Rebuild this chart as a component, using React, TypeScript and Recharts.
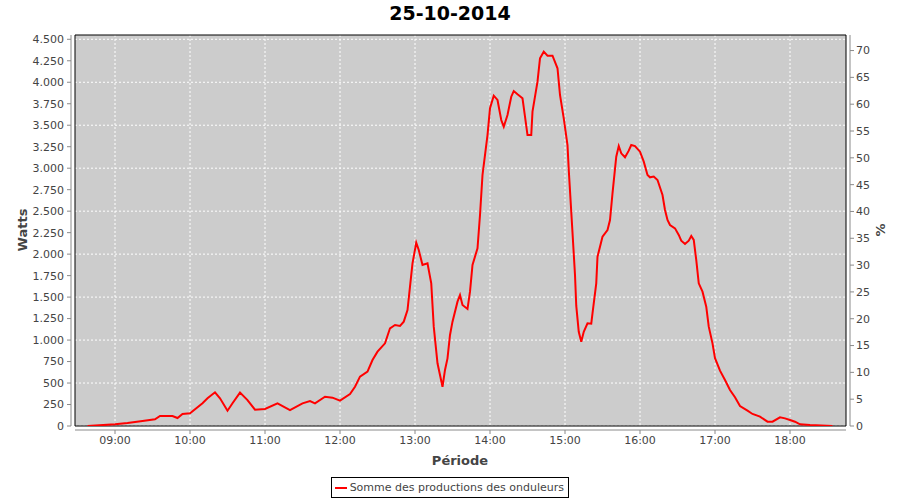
import React from "react";
import {
  LineChart,
  Line,
  XAxis,
  YAxis,
  CartesianGrid,
  ReferenceArea,
  Legend,
} from "recharts";

const chartTitle = "25-10-2014";
const seriesName = "Somme des productions des onduleurs";

// minutes since midnight
const minutes = [
  518, 540, 550, 562, 572, 576, 586, 590, 594, 600,
  610, 614, 620, 624, 630, 634, 640, 646, 652, 660,
  670, 680, 690, 696, 700, 708, 714, 720, 728, 732,
  736, 742, 746, 750, 756, 760, 764, 768, 771, 774,
  776, 778, 781, 783, 786, 790, 793, 795, 798, 802,
  804, 806, 808, 810, 814, 816, 818, 822, 824, 826,
  830, 832, 834, 838, 840, 843, 846, 849, 851, 854,
  857, 859, 862, 866, 868, 870, 873, 874, 878, 880,
  883, 886, 890, 894, 896, 899, 902, 903, 906, 908,
  909, 911, 913, 915, 918, 921, 922, 925, 926, 930,
  934, 936, 938, 941, 943, 945, 948, 951, 953, 956,
  960, 963, 966, 968, 971, 974, 978, 980, 982, 984,
  988, 991, 993, 996, 999, 1001, 1003, 1005, 1007, 1010,
  1013, 1015, 1018, 1020, 1024, 1028, 1032, 1036, 1040, 1046,
  1050, 1056, 1062, 1066, 1072, 1076, 1080, 1084, 1088, 1096,
  1114,
];

const watts = [
  0, 20, 35, 58, 78, 116, 116, 93, 140, 148,
  264, 322, 392, 322, 178, 264, 388, 302, 190, 198,
  264, 186, 264, 291, 264, 341, 330, 295, 372, 457,
  574, 632, 768, 865, 962, 1137, 1175, 1164, 1214, 1350,
  1621, 1893, 2133, 2048, 1874, 1893, 1660, 1156, 730, 457,
  652, 787, 1059, 1214, 1447, 1524, 1408, 1362, 1563, 1874,
  2068, 2455, 2921, 3386, 3697, 3844, 3794, 3561, 3483, 3619,
  3832, 3898, 3860, 3814, 3599, 3386, 3386, 3658, 4007, 4279,
  4356, 4309, 4309, 4163, 3852, 3580, 3270, 2980, 2250, 1757,
  1400, 1097, 981, 1097, 1195, 1190, 1311, 1660, 1970, 2203,
  2281, 2397, 2708, 3134, 3258, 3173, 3127, 3204, 3270, 3258,
  3192, 3076, 2921, 2894, 2902, 2863, 2688, 2514, 2397, 2339,
  2300, 2223, 2157, 2118, 2157, 2211, 2165, 1932, 1660, 1563,
  1389, 1156, 962, 790, 644, 535, 419, 334, 233, 178,
  140, 109, 50, 50, 101, 89, 70, 50, 20, 12,
  0,
];

const hourTicks = [540, 600, 660, 720, 780, 840, 900, 960, 1020, 1080];
const wattTicks = [
  0, 250, 500, 750, 1000, 1250, 1500, 1750, 2000, 2250,
  2500, 2750, 3000, 3250, 3500, 3750, 4000, 4250, 4500,
];
const pctTicks = [0, 5, 10, 15, 20, 25, 30, 35, 40, 45, 50, 55, 60, 65, 70];

const X_MIN = 508;
const X_MAX = 1124.8;
const W_MAX = 4550;
const P_MAX = 72.9;

const FONT = "'DejaVu Sans', sans-serif";
const AXIS_GRAY = "#8a8a8a";
const TEXT_GRAY = "#444444";

const fmtTime = (m: number) => {
  const h = Math.floor(m / 60);
  const mm = m % 60;
  return `${String(h).padStart(2, "0")}:${String(mm).padStart(2, "0")}`;
};

const fmtWatts = (v: number) =>
  String(v).replace(/\B(?=(\d{3})+(?!\d))/g, ".");

function LegendBox() {
  return (
    <div
      style={{
        border: "1px solid #000",
        background: "#fff",
        display: "flex",
        alignItems: "center",
        height: 21,
        padding: "0 4px 0 3px",
        boxSizing: "border-box",
        fontFamily: FONT,
        fontSize: 11,
        color: TEXT_GRAY,
        whiteSpace: "nowrap",
      }}
    >
      <span
        style={{
          display: "inline-block",
          width: 15,
          height: 2,
          background: "#ff0000",
          marginRight: 3,
        }}
      />
      {seriesName}
    </div>
  );
}

const axisTitle: React.CSSProperties = {
  position: "absolute",
  fontSize: 13,
  fontWeight: "bold",
  color: TEXT_GRAY,
  whiteSpace: "nowrap",
};

export default function App() {
  const data = React.useMemo(
    () => minutes.map((t, i) => ({ t, watts: watts[i] })),
    []
  );

  return (
    <div
      style={{
        position: "absolute",
        left: 0,
        top: 0,
        width: 900,
        height: 500,
        background: "#fff",
        fontFamily: FONT,
      }}
    >
      <div
        style={{
          position: "absolute",
          left: 0,
          width: 900,
          top: 2,
          textAlign: "center",
          fontWeight: "bold",
          fontSize: 19,
          color: "#000",
        }}
      >
        {chartTitle}
      </div>
      <LineChart
        width={900}
        height={500}
        data={data}
        margin={{ top: 35, right: 14, bottom: 44, left: 15 }}
      >
        <CartesianGrid
          yAxisId="left"
          fill="#cccccc"
          fillOpacity={1}
          stroke="#ffffff"
          strokeDasharray="2 2"
          verticalValues={hourTicks}
          horizontalValues={wattTicks}
        />
        <XAxis
          dataKey="t"
          type="number"
          domain={[X_MIN, X_MAX]}
          ticks={hourTicks}
          tickFormatter={fmtTime}
          allowDataOverflow
          height={30}
          tickSize={4}
          tickMargin={6}
          axisLine={{ stroke: AXIS_GRAY, transform: "translate(0,4)" }}
          tickLine={{ stroke: AXIS_GRAY, transform: "translate(0,4)" }}
          tick={{ fill: TEXT_GRAY, fontSize: 11, fontFamily: FONT }}
        />
        <YAxis
          yAxisId="left"
          type="number"
          domain={[0, W_MAX]}
          ticks={wattTicks}
          tickFormatter={fmtWatts}
          allowDataOverflow
          width={60}
          tickSize={4}
          tickMargin={7}
          axisLine={{ stroke: AXIS_GRAY, transform: "translate(-4,0)" }}
          tickLine={{ stroke: AXIS_GRAY, transform: "translate(-4,0)" }}
          tick={{ fill: TEXT_GRAY, fontSize: 11, fontFamily: FONT }}
        />
        <YAxis
          yAxisId="right"
          orientation="right"
          type="number"
          domain={[0, P_MAX]}
          ticks={pctTicks}
          allowDataOverflow
          width={40}
          tickSize={4}
          tickMargin={6}
          axisLine={{ stroke: AXIS_GRAY, transform: "translate(4,0)" }}
          tickLine={{ stroke: AXIS_GRAY, transform: "translate(4,0)" }}
          tick={{ fill: TEXT_GRAY, fontSize: 11, fontFamily: FONT }}
        />
        <ReferenceArea
          yAxisId="left"
          x1={X_MIN}
          x2={X_MAX}
          y1={0}
          y2={W_MAX}
          fill="none"
          stroke="#000"
          strokeWidth={1}
        />
        <Line
          yAxisId="left"
          type="linear"
          dataKey="watts"
          name={seriesName}
          stroke="#ff0000"
          strokeWidth={2}
          dot={false}
          isAnimationActive={false}
        />
        <Legend
          layout="horizontal"
          verticalAlign="middle"
          align="center"
          content={() => <LegendBox />}
          wrapperStyle={{ left: 331, top: 477, width: 238, bottom: "auto" }}
        />
      </LineChart>
      <div
        style={{
          ...axisTitle,
          left: 22,
          top: 230,
          transform: "translate(-50%, -50%) rotate(-90deg)",
        }}
      >
        Watts
      </div>
      <div
        style={{
          ...axisTitle,
          left: 880,
          top: 230,
          transform: "translate(-50%, -50%) rotate(-90deg)",
        }}
      >
        %
      </div>
      <div
        style={{
          ...axisTitle,
          left: 460,
          top: 460,
          transform: "translate(-50%, -50%)",
        }}
      >
        Période
      </div>
    </div>
  );
}
